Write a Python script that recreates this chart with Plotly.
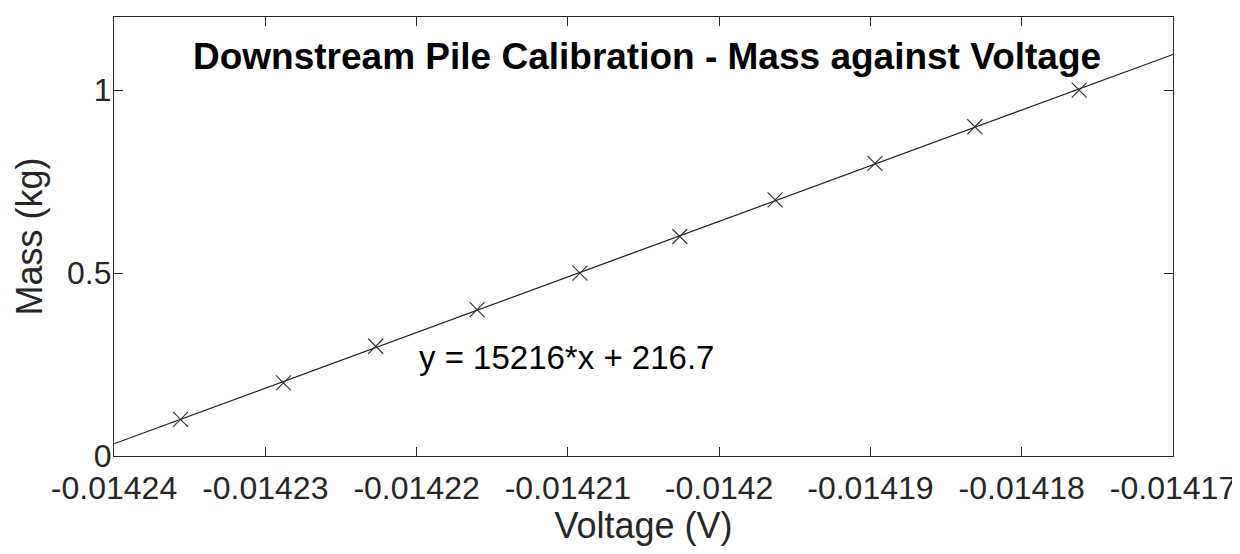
import numpy as np
import plotly.graph_objects as go

# Data
voltage = [-0.0142356, -0.0142288, -0.0142227, -0.0142160, -0.0142092,
           -0.0142026, -0.0141963, -0.0141897, -0.0141831, -0.0141762]
mass = [0.1, 0.2, 0.3, 0.4, 0.5, 0.6, 0.7, 0.8, 0.9, 1.0]

x_ticks = [-0.01424, -0.01423, -0.01422, -0.01421, -0.0142, -0.01419, -0.01418, -0.01417]
x_tick_text = ["-0.01424", "-0.01423", "-0.01422", "-0.01421", "-0.0142", "-0.01419", "-0.01418", "-0.01417"]
y_ticks = [0, 0.5, 1]
y_tick_text = ["0", "0.5", "1"]
x_range = [-0.01424, -0.01417]
y_range = [0, 1.2]

title_text = "Downstream Pile Calibration - Mass against Voltage"
fit_label = "y = 15216*x + 216.7"
fit_label_pos = (-0.01422, 0.27)

# Linear fit, drawn across the axis range
coef = np.polyfit(voltage, mass, 1)
fit_x = np.array(x_range)
fit_y = np.polyval(coef, fit_x)

FONT = "Liberation Sans, Arial, Helvetica, sans-serif"
AX = "#262626"

fig = go.Figure()
fig.add_trace(go.Scatter(x=fit_x, y=fit_y, mode="lines",
                         line=dict(color="#1a1a1a", width=1.2),
                         showlegend=False, hoverinfo="skip"))
fig.add_trace(go.Scatter(x=voltage, y=mass, mode="markers",
                         marker=dict(symbol="x-thin", size=15,
                                     line=dict(color="#333333", width=1.1)),
                         showlegend=False))

fig.update_layout(
    template="none",
    width=1232, height=546,
    margin=dict(l=106, r=67, t=9, b=98, autoexpand=False),
    paper_bgcolor="white", plot_bgcolor="white",
    font=dict(family=FONT, color=AX, size=32),
    xaxis=dict(range=x_range, tickmode="array", tickvals=x_ticks, ticktext=x_tick_text,
               automargin=False,
               showgrid=False, zeroline=False, showline=True, linecolor=AX, linewidth=1.2,
               mirror="ticks", ticks="inside", ticklen=9, tickcolor=AX, tickwidth=1.2,
               ticklabelstandoff=3,
               tickfont=dict(size=32, color=AX, family=FONT),
               title=dict(text="Voltage (V)", font=dict(size=36, color=AX, family=FONT), standoff=8)),
    yaxis=dict(range=y_range, tickmode="array", tickvals=y_ticks, ticktext=y_tick_text,
               automargin=False,
               showgrid=False, zeroline=False, showline=True, linecolor=AX, linewidth=1.2,
               mirror="ticks", ticks="inside", ticklen=9, tickcolor=AX, tickwidth=1.2,
               ticklabelstandoff=-5,
               tickfont=dict(size=32, color=AX, family=FONT),
               title=dict(text="Mass (kg)", font=dict(size=36, color=AX, family=FONT), standoff=13)),
    annotations=[
        dict(text="<b>" + title_text + "</b>", xref="paper", yref="paper",
             x=0.503, y=0.909, xanchor="center", yanchor="middle", showarrow=False,
             font=dict(size=37, color="black", family=FONT)),
        dict(text=fit_label, xref="x", yref="y", x=fit_label_pos[0], y=fit_label_pos[1],
             xanchor="left", yanchor="middle", showarrow=False,
             font=dict(size=33, color="black", family=FONT)),
    ],
)

fig.write_html("out.html")
